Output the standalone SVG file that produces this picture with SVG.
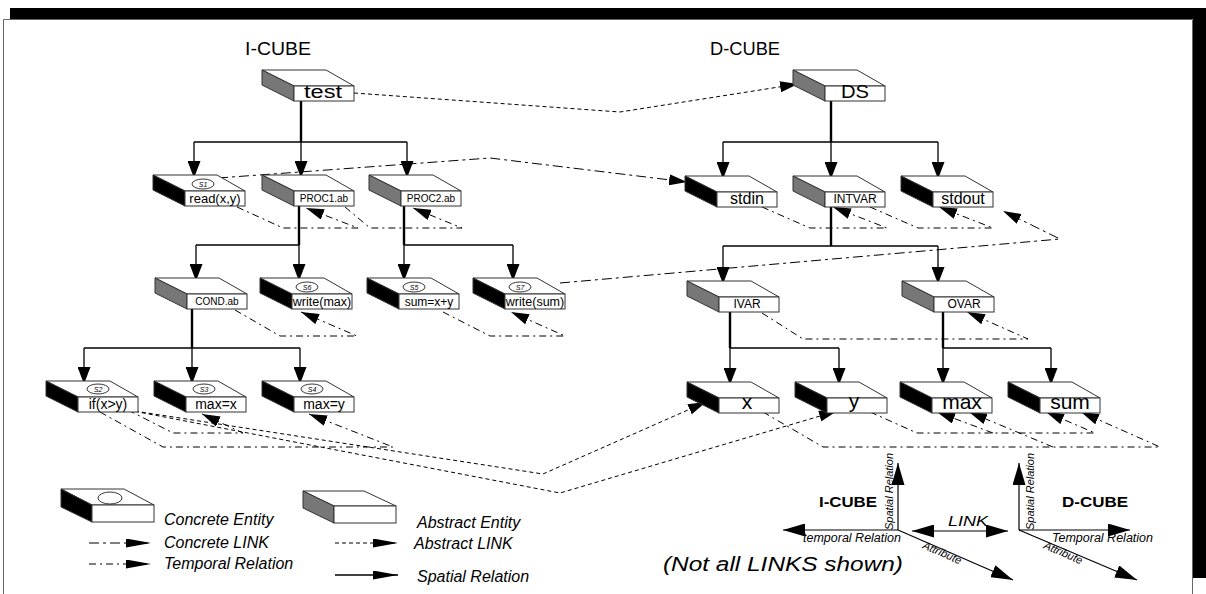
<svg xmlns="http://www.w3.org/2000/svg" xmlns:xlink="http://www.w3.org/1999/xlink" width="1206" height="594" viewBox="0 0 1206 594">
<style>
.top{fill:#fff;stroke:#333;stroke-width:1}
.front{fill:#fff;stroke:#333;stroke-width:1}
.cs{fill:#000;stroke:#333;stroke-width:1}
.as{fill:#777;stroke:#333;stroke-width:1}
text{font-family:"Liberation Sans",Arial,sans-serif;fill:#000}
.lbl{text-anchor:middle}
.el{fill:#fff;stroke:#222;stroke-width:0.9}
.sl{font-size:7px;font-style:italic;text-anchor:middle}
.trunk{stroke:#000;stroke-width:2.4;fill:none}
.br{stroke:#000;stroke-width:1.3;fill:none}
.abs{stroke:#000;stroke-width:1;fill:none;stroke-dasharray:4 3}
.con{stroke:#000;stroke-width:1;fill:none;stroke-dasharray:10 4 3 4}
.tmp{stroke:#000;stroke-width:1;fill:none;stroke-dasharray:7 4 2 4}
.leg{font-size:16px;font-style:italic}
.ax{stroke:#000;stroke-width:1.2;fill:none}
.axl{font-size:12.5px;font-style:italic}
</style>
<defs>
<marker id="sp" markerUnits="userSpaceOnUse" markerWidth="17" markerHeight="13" refX="17" refY="6.5" orient="auto"><path d="M0,0 L17,6.5 L0,13z" fill="#000"/></marker>
<marker id="lk" markerUnits="userSpaceOnUse" markerWidth="18" markerHeight="11" refX="18" refY="5.5" orient="auto"><path d="M0,0 L18,5.5 L0,11z" fill="#000"/></marker>
<marker id="lg" markerUnits="userSpaceOnUse" markerWidth="25" markerHeight="9" refX="25" refY="4.5" orient="auto"><path d="M0,0 L25,4.5 L0,9z" fill="#000"/></marker>
<marker id="axm" markerUnits="userSpaceOnUse" markerWidth="22" markerHeight="13" refX="22" refY="6.5" orient="auto-start-reverse"><path d="M0,0 L22,6.5 L0,13z" fill="#000"/></marker>
<g id="cbox"><polygon class="top" points="0,0 64,0 92,16 32,16"/><polygon class="cs" points="0,0 32,16 32,31 0,15"/><rect class="front" x="32" y="16" width="60" height="15"/></g>
<g id="abox"><polygon class="top" points="0,0 64,0 92,16 32,16"/><polygon class="as" points="0,0 32,16 32,31 0,15"/><rect class="front" x="32" y="16" width="60" height="15"/></g>
</defs>

<!-- frame -->
<rect x="10" y="8" width="1196" height="11" fill="#000"/>
<rect x="1193" y="8" width="13" height="570" fill="#000"/>
<path d="M3.5,594 V19.5 H1192.5 V594" stroke="#666" stroke-width="1" fill="none"/>

<text x="278" y="55" class="lbl" font-size="19" textLength="66" lengthAdjust="spacingAndGlyphs">I-CUBE</text>
<text x="745" y="55" class="lbl" font-size="19" textLength="70" lengthAdjust="spacingAndGlyphs">D-CUBE</text>

<g id="connectors">
<!-- spatial I-cube -->
<path class="trunk" d="M301,101 V142"/>
<path class="br" d="M194,142 H407"/>
<path class="br" d="M194,142 V178" marker-end="url(#sp)"/>
<path class="br" d="M301,142 V178" marker-end="url(#sp)"/>
<path class="br" d="M407,142 V178" marker-end="url(#sp)"/>
<path class="trunk" d="M299,206 V245"/>
<path class="br" d="M196,245 H299"/>
<path class="br" d="M196,245 V281" marker-end="url(#sp)"/>
<path class="br" d="M299,245 V281" marker-end="url(#sp)"/>
<path class="trunk" d="M404,206 V245"/>
<path class="br" d="M404,245 H513"/>
<path class="br" d="M404,245 V281" marker-end="url(#sp)"/>
<path class="br" d="M513,245 V281" marker-end="url(#sp)"/>
<path class="trunk" d="M192,309 V348"/>
<path class="br" d="M84,348 H300"/>
<path class="br" d="M84,348 V384" marker-end="url(#sp)"/>
<path class="br" d="M192,348 V384" marker-end="url(#sp)"/>
<path class="br" d="M300,348 V384" marker-end="url(#sp)"/>
<!-- spatial D-cube -->
<path class="trunk" d="M831,101 V142"/>
<path class="br" d="M723,142 H938"/>
<path class="br" d="M723,142 V179" marker-end="url(#sp)"/>
<path class="br" d="M831,142 V179" marker-end="url(#sp)"/>
<path class="br" d="M938,142 V179" marker-end="url(#sp)"/>
<path class="trunk" d="M831,207 V246"/>
<path class="br" d="M723,246 H938"/>
<path class="br" d="M723,246 V284" marker-end="url(#sp)"/>
<path class="br" d="M938,246 V284" marker-end="url(#sp)"/>
<path class="trunk" d="M730,312 V348"/>
<path class="br" d="M730,348 H839"/>
<path class="br" d="M730,348 V385" marker-end="url(#sp)"/>
<path class="br" d="M839,348 V385" marker-end="url(#sp)"/>
<path class="trunk" d="M943,312 V348"/>
<path class="br" d="M943,348 H1051"/>
<path class="br" d="M943,348 V385" marker-end="url(#sp)"/>
<path class="br" d="M1051,348 V385" marker-end="url(#sp)"/>
<!-- abstract & concrete links -->
<path class="abs" d="M354,93 L620,112 L798,84" marker-end="url(#lk)"/>
<path class="con" d="M218,178 L490,158 L687,182" marker-end="url(#lk)"/>
<path class="con" d="M560,283 L1060,239 L1003,211" marker-end="url(#lk)"/>
<path class="abs" d="M128,410 L543,474 L706,402" marker-end="url(#lk)"/>
<path class="abs" d="M128,410 L560,493 L837,411" marker-end="url(#lk)"/>
<!-- temporal loops -->
<path class="tmp" d="M237,207 L283,228 L358,228 L306,208" marker-end="url(#lk)"/>
<path class="tmp" d="M345,207 L370,228 L462,228 L413,208" marker-end="url(#lk)"/>
<path class="tmp" d="M235,310 L280,336 L357,336 L301,312" marker-end="url(#lk)"/>
<path class="tmp" d="M443,312 L490,336 L565,336 L511,312" marker-end="url(#lk)"/>
<path class="tmp" d="M762,207 L810,228 L887,228 L833,207" marker-end="url(#lk)"/>
<path class="tmp" d="M870,207 L918,228 L993,228 L939,207" marker-end="url(#lk)"/>
<path class="tmp" d="M762,313 L803,339 L1028,339 L967,312" marker-end="url(#lk)"/>
<path class="tmp" d="M870,412 L917,433 L1095,433 L1046,412" marker-end="url(#lk)"/>
<path class="tmp" d="M993,433 L937,412" marker-end="url(#lk)"/>
<path class="tmp" d="M763,412 L823,447 L1160,447 L1081,412" marker-end="url(#lk)"/>
<path class="tmp" d="M1053,447 L969,412" marker-end="url(#lk)"/>
<path class="tmp" d="M128,410 L173,433 L243,433 L202,414" marker-end="url(#lk)"/>
<path class="tmp" d="M100,412 L163,447 L393,447 L309,414" marker-end="url(#lk)"/>
</g>

<!-- I-CUBE nodes -->
<g id="n-test"><use xlink:href="#abox" x="262" y="70"/><text x="323" y="98" class="lbl" font-size="18" textLength="38" lengthAdjust="spacingAndGlyphs">test</text></g>
<g id="n-read"><use xlink:href="#cbox" x="153" y="175"/><ellipse class="el" cx="203" cy="184" rx="11" ry="5"/><text x="203" y="186.5" class="sl">S1</text><text x="215" y="203" class="lbl" font-size="13">read(x,y)</text></g>
<g id="n-proc1"><use xlink:href="#abox" x="262" y="175"/><text x="324" y="202" class="lbl" font-size="10">PROC1.ab</text></g>
<g id="n-proc2"><use xlink:href="#abox" x="369" y="175"/><text x="431" y="202" class="lbl" font-size="10">PROC2.ab</text></g>
<g id="n-cond"><use xlink:href="#abox" x="155" y="278"/><text x="217" y="305" class="lbl" font-size="10">COND.ab</text></g>
<g id="n-wmax"><use xlink:href="#cbox" x="260" y="278"/><ellipse class="el" cx="307" cy="287" rx="11" ry="5"/><text x="307" y="289.5" class="sl">S6</text><text x="322" y="306" class="lbl" font-size="12.5">write(max)</text></g>
<g id="n-sumxy"><use xlink:href="#cbox" x="367" y="278"/><ellipse class="el" cx="414" cy="287" rx="11" ry="5"/><text x="414" y="289.5" class="sl">S5</text><text x="429" y="306" class="lbl" font-size="12">sum=x+y</text></g>
<g id="n-wsum"><use xlink:href="#cbox" x="473" y="278"/><ellipse class="el" cx="520" cy="287" rx="11" ry="5"/><text x="520" y="289.5" class="sl">S7</text><text x="535" y="306" class="lbl" font-size="12.5">write(sum)</text></g>
<g id="n-if"><use xlink:href="#cbox" x="46" y="381"/><ellipse class="el" cx="98" cy="389" rx="11" ry="5"/><text x="98" y="391.5" class="sl">S2</text><text x="108" y="409" class="lbl" font-size="14">if(x&gt;y)</text></g>
<g id="n-maxx"><use xlink:href="#cbox" x="154" y="381"/><ellipse class="el" cx="204" cy="389" rx="11" ry="5"/><text x="204" y="391.5" class="sl">S3</text><text x="216" y="409" class="lbl" font-size="14">max=x</text></g>
<g id="n-maxy"><use xlink:href="#cbox" x="262" y="381"/><ellipse class="el" cx="312" cy="389" rx="11" ry="5"/><text x="312" y="391.5" class="sl">S4</text><text x="324" y="409" class="lbl" font-size="14">max=y</text></g>

<!-- D-CUBE nodes -->
<g id="n-ds"><use xlink:href="#abox" x="793" y="70"/><text x="855" y="98" class="lbl" font-size="18" textLength="28" lengthAdjust="spacingAndGlyphs">DS</text></g>
<g id="n-stdin"><use xlink:href="#cbox" x="685" y="176"/><text x="747" y="204" class="lbl" font-size="16">stdin</text></g>
<g id="n-intvar"><use xlink:href="#abox" x="793" y="176"/><text x="855" y="203" class="lbl" font-size="12">INTVAR</text></g>
<g id="n-stdout"><use xlink:href="#cbox" x="901" y="176"/><text x="963" y="204" class="lbl" font-size="16">stdout</text></g>
<g id="n-ivar"><use xlink:href="#abox" x="687" y="281"/><text x="747" y="308" class="lbl" font-size="12">IVAR</text></g>
<g id="n-ovar"><use xlink:href="#abox" x="902" y="281"/><text x="964" y="308" class="lbl" font-size="12">OVAR</text></g>
<g id="n-x"><use xlink:href="#cbox" x="687" y="382"/><text x="747" y="409" class="lbl" font-size="21">x</text></g>
<g id="n-y"><use xlink:href="#cbox" x="795" y="382"/><text x="854" y="408" class="lbl" font-size="21">y</text></g>
<g id="n-max"><use xlink:href="#cbox" x="900" y="382"/><text x="962" y="409" class="lbl" font-size="21">max</text></g>
<g id="n-sum"><use xlink:href="#cbox" x="1008" y="382"/><text x="1070" y="409" class="lbl" font-size="21">sum</text></g>

<!-- legend -->
<g id="legend">
<polygon class="top" points="61,489 124,489 154,505 92,505"/>
<polygon class="cs" points="61,489 92,505 92,522 61,507"/>
<rect class="front" x="92" y="505" width="62" height="17"/>
<ellipse class="el" cx="110" cy="498" rx="12" ry="6"/>
<polygon class="top" points="303,491 364,491 396,506 334,506"/>
<polygon class="as" points="303,491 334,506 334,523 303,508"/>
<rect class="front" x="334" y="506" width="62" height="17"/>
<text x="164" y="525" class="leg">Concrete Entity</text>
<text x="417" y="528" class="leg">Abstract Entity</text>
<text x="164" y="548" class="leg">Concrete LINK</text>
<text x="414" y="549" class="leg">Abstract LINK</text>
<text x="164" y="569" class="leg">Temporal Relation</text>
<text x="417" y="582" class="leg">Spatial Relation</text>
<path class="con" d="M89,543 H151" marker-end="url(#lg)"/>
<path class="tmp" d="M89,564 H151" marker-end="url(#lg)"/>
<path class="abs" d="M335,543 H398" marker-end="url(#lg)"/>
<path class="br" d="M335,575 H398" stroke-width="1" marker-end="url(#lg)"/>
<text x="663" y="571" font-size="20" font-style="italic" textLength="240" lengthAdjust="spacingAndGlyphs">(Not all LINKS shown)</text>
</g>

<!-- axes -->
<g id="axes">
<path class="ax" d="M898,530 V463" marker-end="url(#axm)"/>
<path class="ax" d="M898,530 H783" marker-end="url(#axm)"/>
<path class="ax" d="M898,530 L1013,580" marker-end="url(#axm)"/>
<text transform="translate(893,530) rotate(-90)" font-size="11" font-style="italic">Spatial Relation</text>
<text x="803" y="542" class="axl">temporal Relation</text>
<text transform="translate(922,548) rotate(23.5)" font-size="11" font-style="italic">Attribute</text>
<text x="848" y="507" class="lbl" font-size="15" font-weight="bold" textLength="58" lengthAdjust="spacingAndGlyphs">I-CUBE</text>
<path class="ax" d="M912,531 H1008" marker-start="url(#axm)" marker-end="url(#axm)"/>
<text x="968" y="526" class="lbl" font-size="15" font-style="italic" textLength="40" lengthAdjust="spacingAndGlyphs">LINK</text>
<path class="ax" d="M1019,530 V463" marker-end="url(#axm)"/>
<path class="ax" d="M1019,530 H1130" marker-end="url(#axm)"/>
<path class="ax" d="M1019,530 L1137,580" marker-end="url(#axm)"/>
<text transform="translate(1034,530) rotate(-90)" font-size="11" font-style="italic">Spatial Relation</text>
<text x="1052" y="542" class="axl">Temporal Relation</text>
<text transform="translate(1043,548) rotate(23.5)" font-size="11" font-style="italic">Attribute</text>
<text x="1095" y="507" class="lbl" font-size="15" font-weight="bold" textLength="66" lengthAdjust="spacingAndGlyphs">D-CUBE</text>
</g>
</svg>
